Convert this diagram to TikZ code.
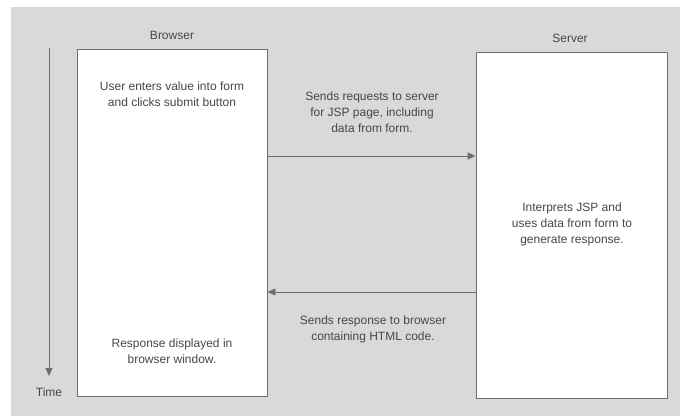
\documentclass[tikz,border=0pt]{standalone}
\usepackage{fontspec}
\setmainfont{Liberation Sans}
\usetikzlibrary{arrows.meta}
\definecolor{paper}{HTML}{D9D9D7}
\definecolor{ink}{HTML}{474747}
\definecolor{rule}{HTML}{6E6E6E}
\tikzset{
  lane/.style={draw=rule, line width=0.9pt, fill=white, rectangle, inner sep=0pt},
  caption/.style={text=ink, font=\fontsize{12}{15.8}\selectfont, align=center, inner sep=0pt},
  flow/.style={draw=rule, line width=0.9pt, -{Triangle[length=8pt,width=7pt]}},
}
\begin{document}
\begin{tikzpicture}[x=1pt, y=-1pt]
  \useasboundingbox (0,0) rectangle (680,416);
  % paper background
  \fill[paper] (11,7) rectangle (680,416);

  % the two lanes
  \node[lane, minimum width=190pt, minimum height=347pt] (browser) at (172,222.5) {};
  \node[lane, minimum width=191pt, minimum height=346pt] (server) at (571.5,225) {};
  \node[caption] (browserlbl) at (172,35) {Browser};
  \node[caption] (serverlbl) at (570,38) {Server};

  % time axis
  \coordinate (tstart) at (49,48);
  \coordinate (tend) at (49,376);
  \draw[flow] (tstart) -- (tend);
  \node[caption] (timelbl) at (49,392) {Time};

  % texts inside the lanes
  \node[caption] (enter) at (172,94) {User enters value into form\\and clicks submit button};
  \node[caption] (shown) at (172,351.5) {Response displayed in\\browser window.};
  \node[caption] (interp) at (572,224.5) {Interprets JSP and\\uses data from form to\\generate response.};

  % messages between the lanes
  \coordinate (req) at (0,156);
  \coordinate (resp) at (0,292);
  \draw[flow] (browser.east |- req) -- (server.west |- req);
  \draw[flow] (server.west |- resp) -- (browser.east |- resp);
  \node[caption] (reqlbl) at (372,112) {Sends requests to server\\for JSP page, including\\data from form.};
  \node[caption] (resplbl) at (373,329.5) {Sends response to browser\\containing HTML code.};
\end{tikzpicture}
\end{document}
